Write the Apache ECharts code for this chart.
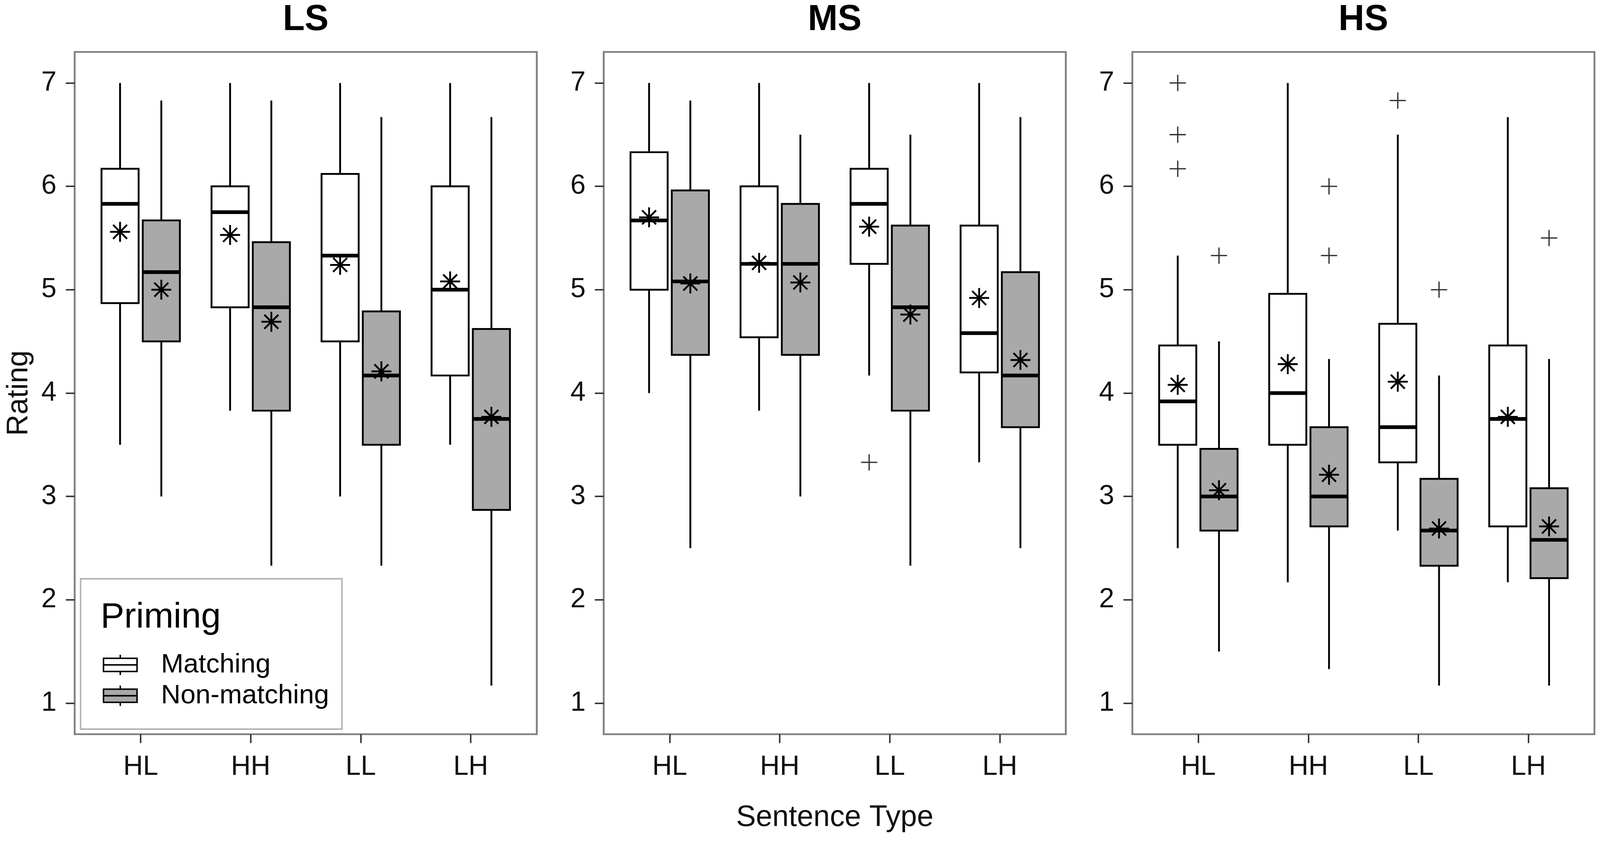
<!DOCTYPE html>
<html>
<head>
<meta charset="utf-8">
<title>Rating by sentence type and priming</title>
<script src="https://cdn.jsdelivr.net/npm/echarts@6/dist/echarts.min.js"></script>
<style>
    html, body { margin: 0; padding: 0; background: #fff; overflow: hidden; }
    #chart { width: 100vw; height: 100vh; }
</style>
</head>
<body>
<div id="chart"></div>
<script>
// x categories and panels
var categories = ['HL', 'HH', 'LL', 'LH'];
var panels = ['LS', 'MS', 'HS'];
var yTicks = [1, 2, 3, 4, 5, 6, 7];

// boxes: [low whisker, Q1, median, Q3, high whisker] for HL, HH, LL, LH
var lsMatching = [[3.5, 4.87, 5.83, 6.17, 7], [3.83, 4.83, 5.75, 6.0, 7], [3.0, 4.5, 5.33, 6.12, 7], [3.5, 4.17, 5.0, 6.0, 7]];
var lsNonMatching = [[3.0, 4.5, 5.17, 5.67, 6.83], [2.33, 3.83, 4.83, 5.46, 6.83], [2.33, 3.5, 4.17, 4.79, 6.67], [1.17, 2.87, 3.75, 4.62, 6.67]];
var msMatching = [[4.0, 5.0, 5.67, 6.33, 7], [3.83, 4.54, 5.25, 6.0, 7], [4.17, 5.25, 5.83, 6.17, 7], [3.33, 4.2, 4.58, 5.62, 7]];
var msNonMatching = [[2.5, 4.37, 5.08, 5.96, 6.83], [3.0, 4.37, 5.25, 5.83, 6.5], [2.33, 3.83, 4.83, 5.62, 6.5], [2.5, 3.67, 4.17, 5.17, 6.67]];
var hsMatching = [[2.5, 3.5, 3.92, 4.46, 5.33], [2.17, 3.5, 4.0, 4.96, 7.0], [2.67, 3.33, 3.67, 4.67, 6.5], [2.17, 2.71, 3.75, 4.46, 6.67]];
var hsNonMatching = [[1.5, 2.67, 3.0, 3.46, 4.5], [1.33, 2.71, 3.0, 3.67, 4.33], [1.17, 2.33, 2.67, 3.17, 4.17], [1.17, 2.21, 2.58, 3.08, 4.33]];

// means (asterisks)
var lsMatchingMean = [5.56, 5.53, 5.24, 5.08];
var lsNonMatchingMean = [5.0, 4.69, 4.21, 3.77];
var msMatchingMean = [5.7, 5.26, 5.61, 4.92];
var msNonMatchingMean = [5.06, 5.07, 4.76, 4.32];
var hsMatchingMean = [4.08, 4.28, 4.11, 3.77];
var hsNonMatchingMean = [3.06, 3.21, 2.69, 2.71];

// outliers (crosses): [category, value]
var lsMatchingOut = [];
var lsNonMatchingOut = [];
var msMatchingOut = [['LL', 3.33]];
var msNonMatchingOut = [];
var hsMatchingOut = [['HL', 7.0], ['HL', 6.5], ['HL', 6.17], ['LL', 6.83]];
var hsNonMatchingOut = [['HL', 5.33], ['HH', 5.33], ['HH', 6.0], ['LL', 5.0], ['LH', 5.5]];

var boxes = [[lsMatching, lsNonMatching], [msMatching, msNonMatching], [hsMatching, hsNonMatching]];
var means = [[lsMatchingMean, lsNonMatchingMean], [msMatchingMean, msNonMatchingMean], [hsMatchingMean, hsNonMatchingMean]];
var outliers = [[lsMatchingOut, lsNonMatchingOut], [msMatchingOut, msNonMatchingOut], [hsMatchingOut, hsNonMatchingOut]];

var primingNames = ['Matching', 'Non-matching'];
var fills = ['#ffffff', '#a9a9a9'];
var dodge = [-0.1875, 0.1875];
var boxWidth = 0.3375;
var font = '"Liberation Sans", Arial, Helvetica, sans-serif';

var chartDom = document.getElementById('chart');
var chart = echarts.init(chartDom);

// layout was measured on a 4328 x 2156 picture; scale it to whatever the page really is
var sx = chart.getWidth() / 4328;
var sy = chart.getHeight() / 2156;
var s = Math.min(sx, sy);

var gridLeft = [202, 1633, 3063];
var gridTop = 133, gridW = 1250, gridH = 1747;

var starPath = 'path://M0,-1L0,1M-1,0L1,0M-0.7,-0.7L0.7,0.7M-0.7,0.7L0.7,-0.7';
var plusPath = 'path://M0,-1L0,1M-1,0L1,0';
var legendIcon = 'path://M47,0L47,10M0,10L94,10L94,47L0,47ZM0,28.5L94,28.5M47,47L47,57';

function boxRenderer(off, fill) {
    return function (params, api) {
        var x = api.value(0) + off;
        var low = api.coord([x, api.value(1)]);
        var q1 = api.coord([x, api.value(2)]);
        var med = api.coord([x, api.value(3)]);
        var q3 = api.coord([x, api.value(4)]);
        var high = api.coord([x, api.value(5)]);
        var w = api.size([boxWidth, 0])[0];
        var cx = q1[0];
        var line = {stroke: '#000', lineWidth: 5 * s};
        return {
            type: 'group',
            children: [
                {type: 'line', shape: {x1: cx, y1: high[1], x2: cx, y2: q3[1]}, style: line},
                {type: 'line', shape: {x1: cx, y1: q1[1], x2: cx, y2: low[1]}, style: line},
                {type: 'rect', shape: {x: cx - w / 2, y: q3[1], width: w, height: q1[1] - q3[1]},
                    style: {fill: fill, stroke: '#000', lineWidth: 5 * s}},
                {type: 'line', shape: {x1: cx - w / 2, y1: med[1], x2: cx + w / 2, y2: med[1]},
                    style: {stroke: '#000', lineWidth: 10 * s}}
            ]
        };
    };
}

var grids = [], xAxes = [], yAxes = [], series = [], titles = [];

panels.forEach(function (p, g) {
    grids.push({
        left: gridLeft[g] * sx, top: gridTop * sy, width: gridW * sx, height: gridH * sy,
        show: true, borderColor: '#808080', borderWidth: 5 * s, backgroundColor: '#fff'
    });
    titles.push({
        text: p, left: (gridLeft[g] + gridW / 2) * sx, top: 6 * sy, textAlign: 'center', padding: 0,
        textStyle: {fontSize: 97 * s, fontWeight: 'bold', color: '#000', fontFamily: font}
    });
    var xa = {
        type: 'value', gridIndex: g, min: 0.4, max: 4.6,
        splitLine: {show: false}, axisLine: {show: false},
        axisTick: {show: true, length: 24 * s, customValues: [1, 2, 3, 4], lineStyle: {color: '#333', width: 4 * s}},
        axisLabel: {
            customValues: [1, 2, 3, 4], margin: 50 * sy, fontSize: 74 * s, color: '#111', fontFamily: font,
            formatter: function (v) { return categories[Math.round(v) - 1]; }
        }
    };
    if (g === 1) {
        xa.name = 'Sentence Type';
        xa.nameLocation = 'middle';
        xa.nameGap = 176 * sy;
        xa.nameTextStyle = {fontSize: 80 * s, color: '#111', fontFamily: font};
    }
    xAxes.push(xa);
    var ya = {
        type: 'value', gridIndex: g, min: 0.7, max: 7.3,
        splitLine: {show: false}, axisLine: {show: false},
        axisTick: {show: true, length: 24 * s, customValues: yTicks, lineStyle: {color: '#333', width: 4 * s}},
        axisLabel: {customValues: yTicks, margin: 49 * sx, fontSize: 74 * s, color: '#111', fontFamily: font}
    };
    if (g === 0) {
        ya.name = 'Rating';
        ya.nameLocation = 'middle';
        ya.nameGap = 110 * sx;
        ya.nameTextStyle = {fontSize: 80 * s, color: '#111', fontFamily: font};
    }
    yAxes.push(ya);

    for (var k = 0; k < 2; k++) {
        series.push({
            name: primingNames[k], type: 'custom', xAxisIndex: g, yAxisIndex: g,
            itemStyle: {color: fills[k], borderColor: '#000'},
            renderItem: boxRenderer(dodge[k], fills[k]),
            encode: {x: 0, y: [1, 2, 3, 4, 5]},
            data: boxes[g][k].map(function (b, i) { return [i + 1].concat(b); }),
            z: 2
        });
        series.push({
            name: 'Mean', type: 'scatter', xAxisIndex: g, yAxisIndex: g,
            symbol: starPath, symbolSize: 54 * s,
            itemStyle: {color: '#000', borderColor: '#000', borderWidth: 5 * s, opacity: 1},
            data: means[g][k].map(function (m, i) { return [i + 1 + dodge[k], m]; }),
            z: 4
        });
        series.push({
            name: 'Outlier', type: 'scatter', xAxisIndex: g, yAxisIndex: g,
            symbol: plusPath, symbolSize: 44 * s,
            itemStyle: {color: '#333', borderColor: '#333', borderWidth: 3.5 * s, opacity: 1},
            data: outliers[g][k].map(function (o) { return [categories.indexOf(o[0]) + 1 + dodge[k], o[1]]; }),
            z: 4
        });
    }
});

titles.push({
    text: 'Priming', left: 272 * sx, top: 1536 * sy, padding: 0, z: 10,
    textStyle: {fontSize: 96 * s, fontWeight: 'normal', color: '#000', fontFamily: font}
});

chart.setOption({
    animation: false,
    backgroundColor: '#fff',
    textStyle: {fontFamily: font},
    title: titles,
    grid: grids,
    xAxis: xAxes,
    yAxis: yAxes,
    legend: {
        orient: 'vertical', left: 218 * sx, top: 1482 * sy, z: 5,
        padding: [186 * sy, 35 * sx, 51 * sy, 60 * sx],
        itemWidth: 94 * s, itemHeight: 55 * s, itemGap: 10 * sy,
        borderColor: '#b3b3b3', borderWidth: 4 * s, backgroundColor: '#fff',
        selectedMode: false,
        textStyle: {fontSize: 73 * s, color: '#000', fontFamily: font, padding: [0, 0, 0, 58 * sx]},
        data: [
            {name: 'Matching', icon: legendIcon, itemStyle: {color: fills[0], borderColor: '#000', borderWidth: 4 * s}},
            {name: 'Non-matching', icon: legendIcon, itemStyle: {color: fills[1], borderColor: '#000', borderWidth: 4 * s}}
        ]
    },
    series: series
});
</script>
</body>
</html>
